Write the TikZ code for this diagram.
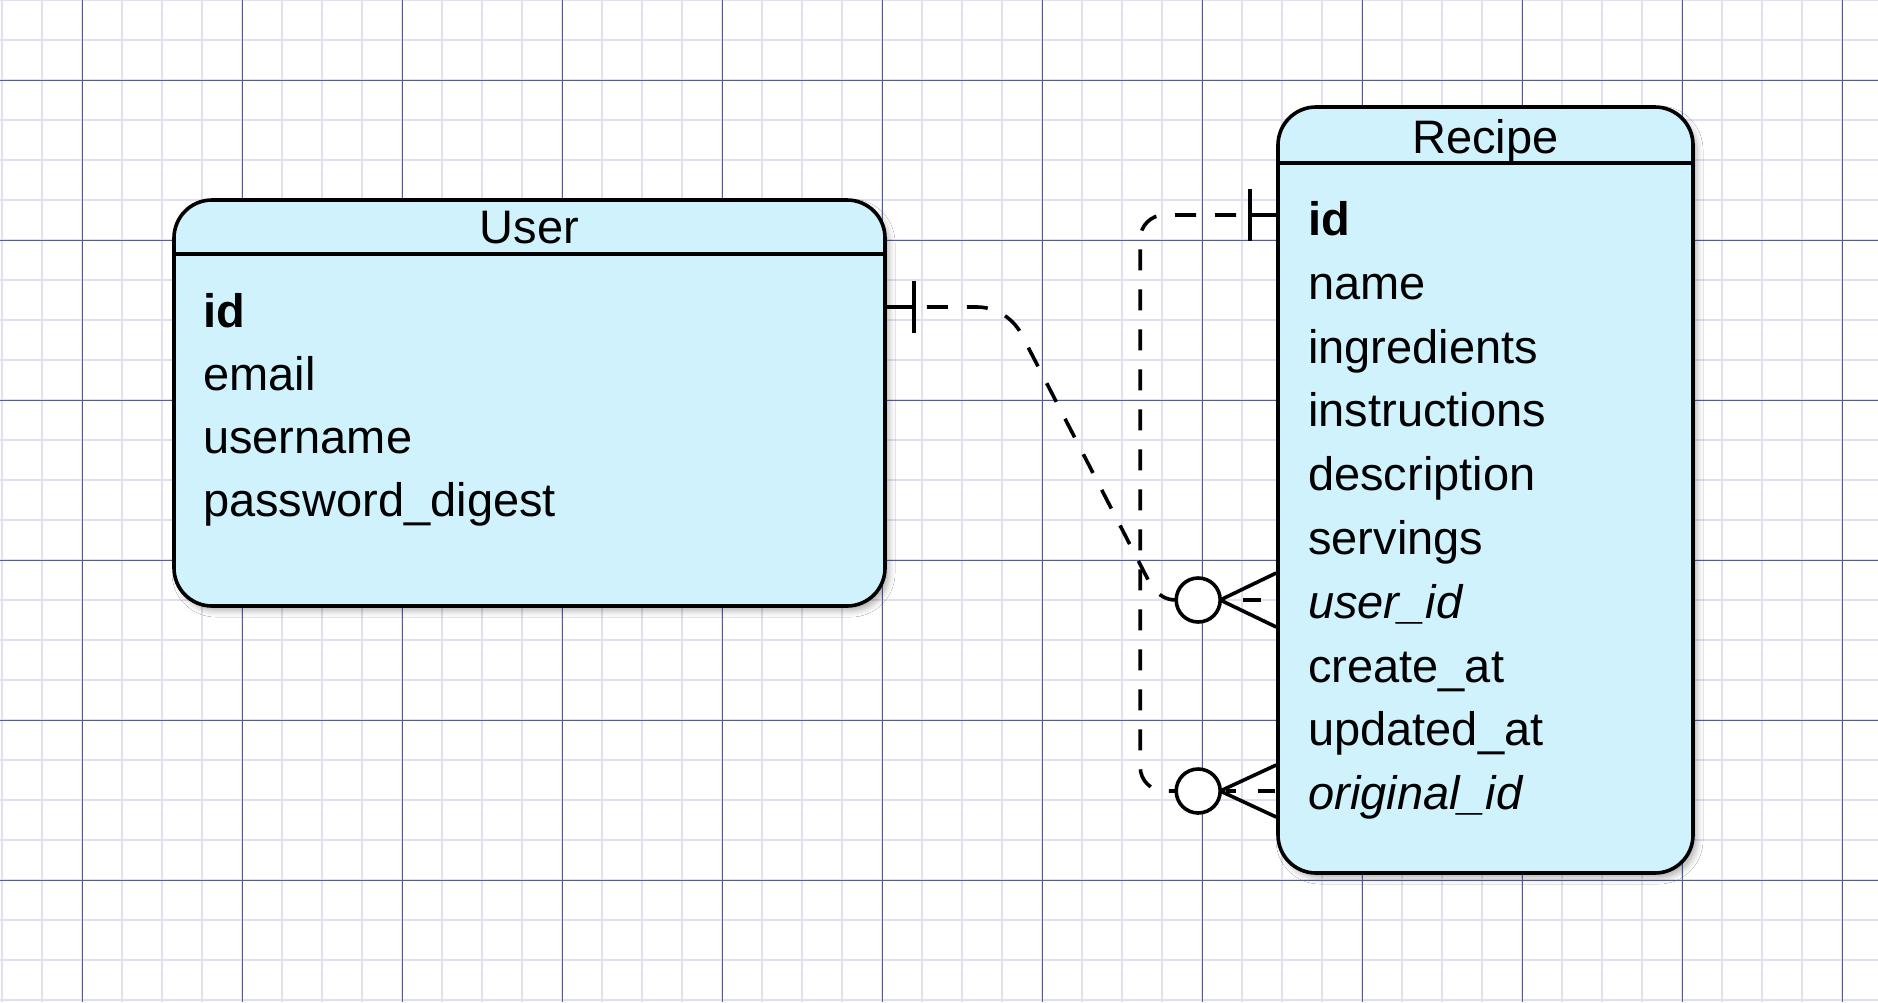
\documentclass[tikz,border=0pt]{standalone}
\usepackage{fontspec}
\setmainfont{Liberation Sans}
\usetikzlibrary{calc,shadows.blur}
\definecolor{entfill}{RGB}{207,242,252}
\definecolor{gridmajor}{RGB}{88,92,140}
\definecolor{gridminor}{RGB}{222,224,240}
\begin{document}
\begin{tikzpicture}[x=1pt,y=-1pt,
  ent/.style={draw=black, line width=3.6pt, fill=entfill, rounded corners=38pt, inner sep=0pt,
    blur shadow={shadow xshift=4pt, shadow yshift=-5pt, shadow blur radius=6pt, shadow opacity=30}},
  attr/.style={anchor=base west, inner sep=0pt, font=\fontsize{47pt}{56pt}\selectfont},
  ttl/.style={anchor=base, inner sep=0pt, font=\fontsize{47pt}{56pt}\selectfont},
  ln/.style={line width=3.6pt, draw=black},
  dashln/.style={ln, dash pattern=on 21pt off 19pt},
  crowc/.style={ln, fill=white},
  minorgrid/.style={draw=gridminor, line width=2pt},
  majorgrid/.style={draw=gridmajor, line width=1pt}]
\useasboundingbox (0,0) rectangle (1878,1002);
\fill[white] (0,0) rectangle (1878,1002);
% grid
\foreach \x in {2,42,...,1878} \draw[minorgrid] (\x,0) -- (\x,1002);
\foreach \y in {0,40,...,1002} \draw[minorgrid] (0,\y) -- (1878,\y);
\foreach \x in {82,242,...,1878} \draw[majorgrid] (\x,0) -- (\x,1002);
\foreach \y in {80,240,...,1002} \draw[majorgrid] (0,\y) -- (1878,\y);
% entities
\node[ent, minimum width=711pt, minimum height=406pt] (user) at (529.5,403) {};
\node[ent, minimum width=415pt, minimum height=766pt] (recipe) at (1485.5,490) {};
\coordinate (uh) at (0,254);
\coordinate (rh) at (0,163);
\draw[ln] (user.west |- uh) -- (user.east |- uh);
\draw[ln] (recipe.west |- rh) -- (recipe.east |- rh);
% titles
\node[ttl] (usert) at (529.5,243) {User};
\node[ttl] (recipet) at (1485.5,153) {Recipe};
% user attributes
\node[attr] (uid) at (203,327) {\textbf{id}};
\node[attr] (uemail) at (203,390) {email};
\node[attr] (uname) at (203,453) {username};
\node[attr] (upass) at (203,516) {password\_digest};
% recipe attributes
\node[attr] (rid) at (1308,235) {\textbf{id}};
\node[attr] (rname) at (1308,299) {name};
\node[attr] (ring) at (1308,363) {ingredients};
\node[attr] (rins) at (1308,426) {instructions};
\node[attr] (rdesc) at (1308,490) {description};
\node[attr] (rserv) at (1308,554) {servings};
\node[attr] (ruid) at (1308,618) {\textit{user\_id}};
\node[attr] (rcre) at (1308,682) {create\_at};
\node[attr] (rupd) at (1308,745) {updated\_at};
\node[attr] (rorig) at (1308,809) {\textit{original\_id}};
% connector end points
\coordinate (A) at ($(user.east |- uid.base)+(0,-20)$);
\coordinate (B) at ($(recipe.west |- rid.base)+(0,-20)$);
\coordinate (C) at ($(recipe.west |- ruid.base)+(0,-18)$);
\coordinate (D) at ($(recipe.west |- rorig.base)+(0,-18)$);
\coordinate (Cc) at ($(C)+(-78,0)$);
\coordinate (Dc) at ($(D)+(-78,0)$);
\coordinate (V) at ($(B)+(-136,0)$);
% connector 1: User.id -> Recipe.user_id
\draw[ln] (A) -- ++(27,0);
\draw[ln] ($(A)+(27,-26)$) -- ($(A)+(27,26)$);
\draw[dashln] ($(A)+(40,0)$) -- ($(A)+(90,0)$)
  .. controls ($(A)+(108,0)$) and ($(A)+(125,10)$) .. ($(A)+(134,26)$)
  -- ($(Cc)+(-50,-20)$)
  .. controls ($(Cc)+(-42,-6)$) and ($(Cc)+(-34,0)$) .. ($(Cc)+(-22,0)$);
\draw[ln] ($(Cc)+(22,0)$) -- ($(C)+(0,-27)$);
\draw[ln] ($(Cc)+(22,0)$) -- ($(C)+(0,27)$);
\draw[ln] ($(C)+(-33,0)$) -- ($(C)+(-15,0)$);
\draw[crowc] (Cc) circle (22);
% connector 2: Recipe.id -> Recipe.original_id
\draw[ln] (B) -- ++(-26,0);
\draw[ln] ($(B)+(-26,-26)$) -- ($(B)+(-26,26)$);
\draw[dashln, rounded corners=24pt] ($(B)+(-40,0)$) -- (V) -- (V |- Dc) -- ($(Dc)+(-22,0)$);
\draw[ln] ($(Dc)+(22,0)$) -- ($(D)+(0,-26)$);
\draw[ln] ($(Dc)+(22,0)$) -- ($(D)+(0,26)$);
\draw[ln] ($(D)+(-50,0)$) -- ($(D)+(-40,0)$);
\draw[ln] ($(D)+(-18,0)$) -- ($(D)+(-1,0)$);
\draw[crowc] (Dc) circle (22);
\end{tikzpicture}
\end{document}
